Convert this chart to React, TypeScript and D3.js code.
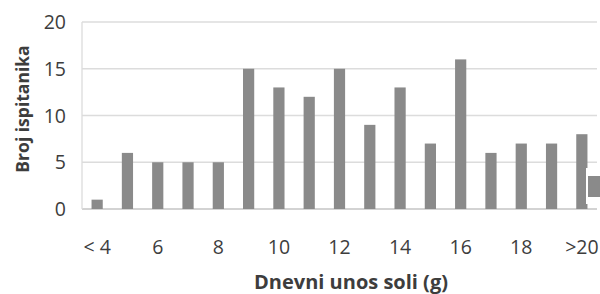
import React from 'react';
import * as d3 from 'd3';

const categories = ['< 4', '5', '6', '7', '8', '9', '10', '11', '12', '13', '14', '15', '16', '17', '18', '19', '>20'];
const counts = [1, 6, 5, 5, 5, 15, 13, 12, 15, 9, 13, 7, 16, 6, 7, 7, 8];
const shownTicks = ['< 4', '6', '8', '10', '12', '14', '16', '18', '>20'];
const yTicks = [0, 5, 10, 15, 20];

const width = 600;
const height = 294;
const margin = { top: 22, right: 3, bottom: 85, left: 82 };
const font = '"Open Sans", sans-serif';
const textColor = '#3d3d3d';
const barColor = '#8a8a8a';

const App = () => {
    const x = d3
        .scaleBand()
        .domain(categories)
        .range([margin.left, width - margin.right])
        .paddingInner(0.63)
        .paddingOuter(0.315);

    const y = d3
        .scaleLinear()
        .domain([0, 20])
        .range([height - margin.bottom, margin.top]);

    return (
        <svg width={width} height={height} style={{ position: 'absolute', left: 0, top: 0, background: '#fff' }}>
            {/* grid */}
            {yTicks.map((t) => (
                <line key={t} x1={margin.left} x2={width - margin.right} y1={y(t)} y2={y(t)} stroke={t === 0 ? '#c4c4c4' : '#dcdcdc'} strokeWidth={1.3} />
            ))}
            <line x1={margin.left} x2={margin.left} y1={y(20)} y2={y(0)} stroke="#dcdcdc" strokeWidth={1.3} />

            {/* bars */}
            {counts.map((v, i) => (
                <rect key={categories[i]} x={x(categories[i])} y={y(v)} width={x.bandwidth()} height={y(0) - y(v)} fill={barColor} />
            ))}

            {/* cropped legend */}
            <rect x={586} y={168} width={14} height={36} fill="#fff" />
            <rect x={588} y={176} width={12} height={21} fill={barColor} />

            {/* y tick labels */}
            {yTicks.map((t) => (
                <text key={t} x={66} y={y(t)} dy="0.36em" textAnchor="end" fontFamily={font} fontSize={19.5} fill={textColor}>
                    {t}
                </text>
            ))}

            {/* x tick labels */}
            {shownTicks.map((c) => (
                <text key={c} x={x(c) + x.bandwidth() / 2} y={247} dy="0.36em" textAnchor="middle" fontFamily={font} fontSize={19.5} fill={textColor}>
                    {c}
                </text>
            ))}

            {/* axis titles */}
            <text x={351} y={289} textAnchor="middle" fontFamily={font} fontSize={20} fontWeight="bold" fill={textColor}>
                Dnevni unos soli (g)
            </text>
            <text transform={`translate(29,109) rotate(-90)`} textAnchor="middle" fontFamily={font} fontSize={17.5} fontWeight="bold" fill={textColor}>
                Broj ispitanika
            </text>
        </svg>
    );
};

export default App;
